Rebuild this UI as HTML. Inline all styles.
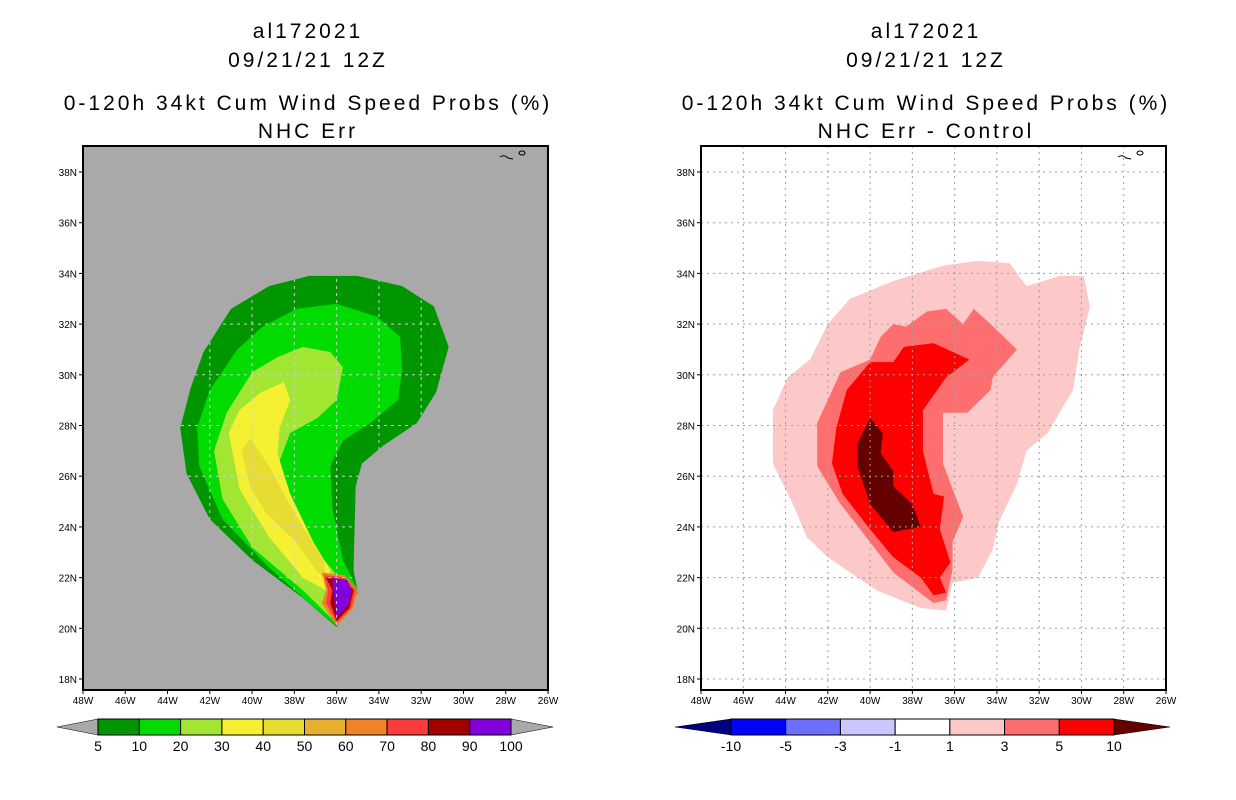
<!DOCTYPE html>
<html><head><meta charset="utf-8">
<style>
html,body{margin:0;padding:0;background:#fff;}
svg{display:block;font-family:"Liberation Sans",sans-serif;}
.t{font-size:21px;text-anchor:middle;fill:#000;letter-spacing:3px;}
.tk{font-size:10px;fill:#000;}
</style></head>
<body>
<svg id="chart" width="1236" height="800" viewBox="0 0 1236 800" xmlns="http://www.w3.org/2000/svg">
<defs><clipPath id="lclip"><polygon id="lclipPoly" points=""/></clipPath></defs>
<g>
<text class="t" x="308" y="38">al172021</text>
<text class="t" x="308" y="67">09/21/21 12Z</text>
<text class="t" x="308" y="110">0-120h 34kt Cum Wind Speed Probs (%)</text>
<text class="t" x="308" y="138">NHC Err</text>
</g>
<g>
<text class="t" x="926" y="38">al172021</text>
<text class="t" x="926" y="67">09/21/21 12Z</text>
<text class="t" x="926" y="110">0-120h 34kt Cum Wind Speed Probs (%)</text>
<text class="t" x="926" y="138">NHC Err - Control</text>
</g>
<g id="left"></g>
<g id="right"></g>
<g id="cbl"></g>
<g id="cbr"></g>
</svg>
<script>
// axis data
const lonTicks = [-48,-46,-44,-42,-40,-38,-36,-34,-32,-30,-28,-26];
const latTicks = [18,20,22,24,26,28,30,32,34,36,38];
// left panel contours (lon, lat)
const leftLevels = ["5","10","20","30","40","60","70","80","90"];
const leftColors = ["#009600","#00dc00","#a0e632","#f5f032","#e6dc32","#f08228","#fa3c3c","#a00000","#8200dc"];
const leftShapes = [
 [[-35.0,33.9],[-32.9,33.5],[-31.4,32.7],[-30.7,31.1],[-31.3,29.3],[-32.2,28.1],[-33.8,27.2],[-34.8,26.5],[-35.1,25.6],[-35.2,22.3],[-35.0,21.4],[-36.0,20.05],[-37.6,21.2],[-40.0,22.7],[-42.0,24.3],[-43.1,26.1],[-43.4,27.9],[-42.9,29.5],[-42.3,30.9],[-41.0,32.6],[-39.2,33.5],[-37.3,33.9]],
 [[-36.0,32.8],[-34.1,32.3],[-33.0,31.5],[-32.9,30.2],[-33.1,29.0],[-34.4,28.1],[-35.7,27.4],[-36.3,26.4],[-36.2,24.7],[-35.7,22.7],[-35.0,21.5],[-36.0,20.1],[-37.3,21.0],[-39.2,22.4],[-41.4,24.3],[-42.5,26.4],[-42.6,27.9],[-42.0,29.4],[-40.7,31.0],[-39.5,31.9],[-37.9,32.6]],
 [[-37.6,31.1],[-36.3,30.9],[-35.7,30.3],[-36.0,29.0],[-36.9,28.3],[-38.2,27.7],[-38.7,26.6],[-37.9,24.3],[-36.6,22.7],[-35.4,21.5],[-36.0,20.2],[-37.6,21.5],[-40.0,23.2],[-41.4,25.1],[-41.8,27.0],[-41.2,28.5],[-40.0,30.1],[-38.8,30.7]],
 [[-38.5,29.7],[-38.2,29.0],[-38.7,27.9],[-38.8,26.9],[-38.2,25.3],[-37.1,23.4],[-36.3,22.3],[-36.5,21.5],[-37.6,22.0],[-39.2,23.6],[-40.6,25.5],[-41.1,27.7],[-40.6,28.6],[-39.6,29.3]],
 [[-40.1,27.5],[-39.2,26.4],[-38.5,25.3],[-37.6,24.0],[-36.6,22.7],[-36.5,21.9],[-36.9,22.2],[-37.9,23.4],[-39.3,24.5],[-40.1,25.6],[-40.5,27.0]],
 [[-36.7,22.2],[-35.6,22.1],[-35.0,21.5],[-35.2,20.8],[-36.0,20.1],[-36.7,21.0],[-36.5,21.5]],
 [[-36.6,22.1],[-35.6,22.0],[-35.1,21.5],[-35.3,20.8],[-36.0,20.2],[-36.5,21.0],[-36.4,21.5]],
 [[-36.5,22.0],[-35.7,21.9],[-35.2,21.5],[-35.4,20.8],[-36.0,20.3],[-36.3,21.0],[-36.2,21.5]],
 [[-36.2,22.0],[-35.5,21.9],[-35.3,21.5],[-35.4,21.0],[-36.0,20.4],[-36.1,21.1]]
];
// right panel contours
const rightLevels = ["1","3","5","10"];
const rightColors = ["#fcc8c8","#ff6e6e","#ff0000","#640000"];
const rightShapes = [
 [[-40.95,33.0],[-38.9,33.7],[-36.55,34.3],[-34.9,34.5],[-33.4,34.4],[-32.6,33.5],[-31.0,33.9],[-29.9,33.9],[-29.6,32.7],[-30.1,31.0],[-30.4,29.4],[-31.6,27.7],[-32.6,27.0],[-33.05,25.7],[-33.9,24.2],[-34.2,23.1],[-34.9,22.0],[-36.1,21.8],[-36.4,20.7],[-37.6,20.8],[-39.7,21.5],[-42.0,22.8],[-43.0,23.6],[-43.65,24.9],[-44.6,26.5],[-44.6,28.6],[-43.9,29.9],[-42.85,30.6],[-42.0,32.0]],
 [[-37.3,32.5],[-36.4,32.6],[-35.6,32.0],[-35.1,32.6],[-34.3,32.0],[-33.05,31.0],[-34.2,29.9],[-34.3,29.4],[-35.4,28.5],[-36.55,28.5],[-36.55,26.5],[-35.6,24.4],[-36.1,23.4],[-36.1,22.3],[-36.4,21.1],[-37.0,21.0],[-38.9,22.2],[-40.0,23.4],[-41.4,24.9],[-42.5,26.4],[-42.5,28.1],[-41.4,30.1],[-40.0,30.6],[-39.5,31.5],[-38.9,32.0],[-38.3,31.9]],
 [[-38.4,31.1],[-37.0,31.25],[-35.3,30.6],[-36.4,29.9],[-37.5,28.6],[-37.5,27.0],[-37.0,25.3],[-36.5,25.2],[-36.7,23.9],[-36.2,22.6],[-36.7,22.0],[-36.4,21.4],[-37.0,21.3],[-37.6,22.0],[-38.9,22.8],[-40.0,23.9],[-41.3,25.3],[-41.8,26.5],[-41.6,27.9],[-41.1,29.4],[-40.0,30.5],[-38.9,30.5]],
 [[-40.0,28.3],[-39.4,27.7],[-39.5,26.9],[-38.9,26.2],[-38.9,25.6],[-38.0,24.9],[-37.6,24.0],[-38.9,23.8],[-40.0,24.9],[-40.6,26.4],[-40.6,27.3]]
];
const leftBarLabels = ["5","10","20","30","40","50","60","70","80","90","100"];
const leftBarColors = ["#009600","#00dc00","#a0e632","#f5f032","#e6dc32","#e6af2d","#f08228","#fa3c3c","#a00000","#8200dc"];
const rightBarLabels = ["-10","-5","-3","-1","1","3","5","10"];
const rightBarColors = ["#0000ff","#6e6eff","#c8c8ff","#ffffff","#fcc8c8","#ff6e6e","#ff0000"];

const NS="http://www.w3.org/2000/svg";
function mk(tag,attrs,parent){const e=document.createElementNS(NS,tag);for(const k in attrs)e.setAttribute(k,attrs[k]);parent.appendChild(e);return e;}
const Y0=146, Y1=690, W=465;
function yScale(lat){return 172+(38-lat)*25.35;}
function makeX(x0){return lon=>x0+(lon+48)*21.136;}
function pts(s,xs){return s.map(q=>xs(q[0]).toFixed(1)+','+yScale(q[1]).toFixed(1)).join(' ');}

function panel(gid,x0,bg,gridCol,dash,shapes,colors,levels,name,clip){
 const g=document.getElementById(gid);
 
 
 const xs=makeX(x0);
 const bgR=mk('rect',{x:x0,y:Y0,width:W,height:Y1-Y0,fill:bg},g);
 
 
 shapes.forEach((s,i)=>{
  const p=mk('polygon',{points:pts(s,xs),fill:colors[i]},g);
  
  
 });
 const gg=mk('g',{},g);
 
 
 if(clip){document.getElementById('lclipPoly').setAttribute('points',pts(shapes[0],xs));gg.setAttribute('clip-path','url(#lclip)');}
 lonTicks.slice(1,-1).forEach(l=>{
  const ln=mk('line',{x1:xs(l),x2:xs(l),y1:Y0,y2:Y1,stroke:gridCol,'stroke-width':1,'stroke-dasharray':dash},gg);
  
  
 });
 latTicks.forEach(l=>{
  const ln=mk('line',{x1:x0,x2:x0+W,y1:yScale(l),y2:yScale(l),stroke:gridCol,'stroke-width':1,'stroke-dasharray':dash},gg);
  
  
 });
 const isl=mk('path',{d:`M${x0+417} 157 q4 -3 8 1 l5 1 M${x0+436} 153 a3 2 0 1 0 6 0 a3 2 0 1 0 -6 0`,stroke:'#000',fill:'none','stroke-width':1},g);
 
 
 const fr=mk('rect',{x:x0,y:Y0,width:W,height:Y1-Y0,fill:'none',stroke:'#000','stroke-width':2},g);
 
 
 latTicks.forEach(l=>{
  mk('line',{x1:x0-4,x2:x0,y1:yScale(l),y2:yScale(l),stroke:'#000'},g);
  const t=mk('text',{x:x0-6,y:yScale(l)+4,'text-anchor':'end',class:'tk'},g);
  t.textContent=l+'N';
  
  
 });
 lonTicks.forEach(l=>{
  mk('line',{x1:xs(l),x2:xs(l),y1:Y1,y2:Y1+4,stroke:'#000'},g);
  const t=mk('text',{x:xs(l),y:Y1+14,'text-anchor':'middle',class:'tk'},g);
  t.textContent=(-l)+'W';
  
  
 });
}
panel('left',83,'#a9a9a9','#d0d0d0','3,4',leftShapes,leftColors,leftLevels,'left-map-panel',true);
panel('right',701,'#ffffff','#a0a0a0','2,4',rightShapes,rightColors,rightLevels,'right-map-panel',false);

function colorbar(gid,tipL,x0,x1,tipR,colors,labels,lc,rc,name){
 const g=document.getElementById(gid);
 
 
 const y0=719,y1=735,ym=727;
 const n=colors.length, w=(x1-x0)/n;
 const a=mk('polygon',{points:`${tipL},${ym} ${x0},${y0} ${x0},${y1}`,fill:lc,stroke:'#000','stroke-width':0.5},g);
 
 
 const b=mk('polygon',{points:`${tipR},${ym} ${x1},${y0} ${x1},${y1}`,fill:rc,stroke:'#000','stroke-width':0.5},g);
 
 
 colors.forEach((c,i)=>{
  const r=mk('rect',{x:x0+i*w,y:y0,width:w,height:y1-y0,fill:c,stroke:'#000','stroke-width':1},g);
  
  
 });
 labels.forEach((l,i)=>{
  const t=mk('text',{x:x0+i*w,y:751,'text-anchor':'middle','font-size':14},g);
  t.textContent=l;
  
  
 });
}
colorbar('cbl',57,98,511,553,leftBarColors,leftBarLabels,'#a9a9a9','#a9a9a9','left-colorbar');
colorbar('cbr',675,731,1114,1170,rightBarColors,rightBarLabels,'#000080','#640000','right-colorbar');
</script>
</body></html>
